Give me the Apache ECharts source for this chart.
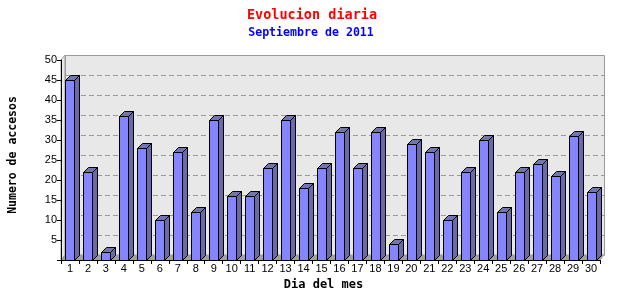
<!DOCTYPE html>
<html><head><meta charset="utf-8">
<script src="https://cdn.jsdelivr.net/npm/echarts@6/dist/echarts.min.js"></script>
<style>html,body{margin:0;padding:0;background:#fff}#c{width:640px;height:300px}</style>
</head><body><div id="c"></div>
<script>
const days = ['1','2','3','4','5','6','7','8','9','10','11','12','13','14','15','16','17','18','19','20','21','22','23','24','25','26','27','28','29','30'];
const accesos = [45,22,2,36,28,10,27,12,35,16,16,23,35,18,23,32,23,32,4,29,27,10,22,30,12,22,24,21,31,17];
const yTicks = [5,10,15,20,25,30,35,40,45,50];
const titleText = 'Evolucion diaria';
const subText = 'Septiembre de 2011';
const xName = 'Dia del mes';
const yName = 'Numero de accesos';

const DX = 4, DY = 5, BDX = 5, BDY = 5;
const mono = '"DejaVu Sans Mono", monospace';
const chart = echarts.init(document.getElementById('c'), null, {renderer:'canvas'});

function wallRender(params, api) {
  const cs = params.coordSys;
  const x = cs.x, y = cs.y, w = cs.width, h = cs.height;
  const ch = [];
  ch.push({type:'polygon', shape:{points:[[x,y],[x+DX,y-DY],[x+DX,y+h-DY],[x,y+h]]},
    style:{fill:'#e8e8e8', stroke:'#9a9a9a', lineWidth:1}});
  ch.push({type:'rect', shape:{x:x+DX+0.5, y:y-DY+0.5, width:w, height:h},
    style:{fill:'#e8e8e8', stroke:'#9a9a9a', lineWidth:1}});
  yTicks.forEach(function(v){
    if (v >= 50) return;
    const p = api.coord([0, v]);
    const yy = Math.round(p[1]) - DY + 0.5;
    ch.push({type:'line', shape:{x1:x+DX, y1:yy, x2:x+w+DX, y2:yy},
      style:{stroke:'#9a9a9a', lineWidth:1, lineDash:[5,3]}});
  });
  ch.push({type:'polygon', shape:{points:[[x,y+h],[x+w,y+h],[x+w+DX,y+h-DY],[x+DX,y+h-DY]]},
    style:{fill:'#a0a0a0', stroke:'#a0a0a0', lineWidth:1}});
  return {type:'group', children:ch};
}

function barRender(params, api) {
  const idx = api.value(0), val = api.value(1);
  const base = api.coord([idx, 0]);
  const top = api.coord([idx, val]);
  const bw = Math.round(api.size([1, 0])[0] * 0.5);
  const x0 = Math.round(base[0] - bw / 2) + 0.5;
  const x1 = x0 + bw;
  const y0 = Math.round(top[1]) + 0.5;
  const y1 = Math.round(base[1]) + 0.5;
  const st = {stroke:'#000', lineWidth:1};
  return {type:'group', children:[
    {type:'polygon', shape:{points:[[x1,y0],[x1+BDX,y0-BDY],[x1+BDX,y1-BDY],[x1,y1]]},
      style:Object.assign({fill:'#6a6aa8'}, st)},
    {type:'polygon', shape:{points:[[x0,y0],[x1,y0],[x1+BDX,y0-BDY],[x0+BDX,y0-BDY]]},
      style:Object.assign({fill:'#7474b4'}, st)},
    {type:'rect', shape:{x:x0, y:y0, width:bw, height:y1-y0},
      style:Object.assign({fill:'#8585ff'}, st)}
  ]};
}

chart.setOption({
  animation:false,
  backgroundColor:'#fff',
  title:[
    {text:titleText, left:307, top:3, textAlign:'center',
      textStyle:{color:'#ff0000', fontFamily:mono, fontSize:13.5, fontWeight:'bold'}},
    {text:subText, left:306, top:22, textAlign:'center',
      textStyle:{color:'#0000ff', fontFamily:mono, fontSize:11.6, fontWeight:'bold'}}
  ],
  grid:{left:61, right:40, top:60, bottom:40, containLabel:false, outerBoundsMode:'none'},
  xAxis:{type:'category', data:days, boundaryGap:true,
    name:xName, nameLocation:'middle', nameGap:16,
    nameTextStyle:{fontFamily:mono, fontSize:12, fontWeight:'bold', color:'#000', verticalAlign:'top', padding:[0,14,0,0]},
    axisLine:{show:true, lineStyle:{color:'#000', width:1}},
    axisTick:{show:true, alignWithLabel:false, length:4, lineStyle:{color:'#000'}},
    axisLabel:{color:'#000', fontFamily:'"Liberation Sans", sans-serif', fontSize:11, margin:3, interval:0},
    splitLine:{show:false}, z:5},
  yAxis:{type:'value', min:0, max:50, interval:5,
    name:yName, nameLocation:'middle', nameGap:42, nameRotate:90,
    nameTextStyle:{fontFamily:mono, fontSize:11.5, fontWeight:'bold', color:'#000', padding:[0,0,0,10]},
    axisLine:{show:true, lineStyle:{color:'#000', width:1}},
    axisTick:{show:true, length:4, lineStyle:{color:'#000'}},
    axisLabel:{color:'#000', fontFamily:'"Liberation Sans", sans-serif', fontSize:11, margin:4,
      formatter:function(v){ return yTicks.indexOf(v) >= 0 ? String(v) : ''; }},
    splitLine:{show:false}, z:5},
  series:[
    {type:'custom', renderItem:wallRender, data:[[0,0]], z:1, silent:true, clip:false},
    {type:'custom', renderItem:barRender, z:3, clip:false,
      data:accesos.map(function(v,i){ return [i, v]; }),
      encode:{x:0, y:1}}
  ]
});
</script></body></html>
